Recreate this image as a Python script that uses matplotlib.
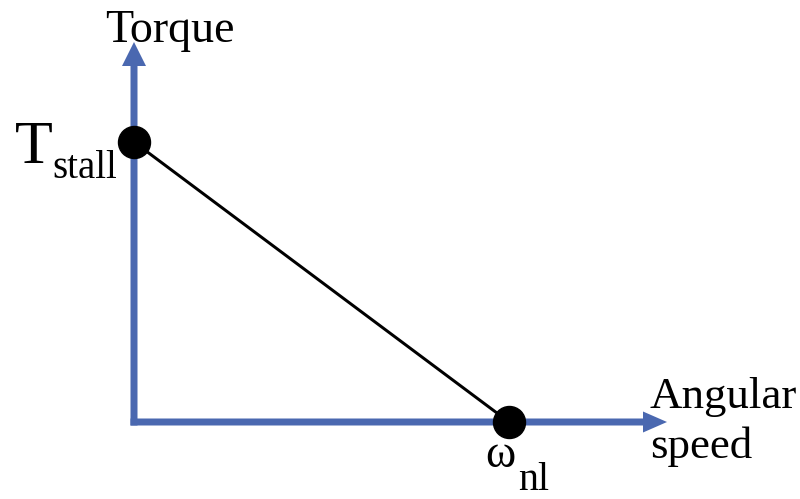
import matplotlib
matplotlib.use("Agg")
import matplotlib.pyplot as plt

# normalised torque-speed line: stall torque at zero speed, zero torque at no-load speed
speed = [0.0, 1.0]
torque = [1.0, 0.0]

AXIS_BLUE = "#4a68b0"
FONT = "Liberation Serif"
PX = 0.72  # points per pixel at dpi=100

# pixel -> data mapping (origin at pixel (134, 422), 375 px per unit x, 280 px per unit y)
X0, Y0, SX, SY = 134.0, 422.0, 375.0, 280.0


def dx(px):
    return (px - X0) / SX


def dy(py):
    return (Y0 - py) / SY


fig = plt.figure(figsize=(8.0, 4.99), dpi=100)
ax = fig.add_axes([0, 0, 1, 1])
ax.set_xlim(dx(0), dx(800))
ax.set_ylim(dy(499), dy(0))
ax.axis("off")

# axes arrows
ax.arrow(0, -3.5 / SY, 0, dy(42) + 3.5 / SY, width=7 / SX, head_width=24 / SX,
         head_length=24 / SY, length_includes_head=True, color=AXIS_BLUE, lw=0, zorder=1)
ax.arrow(-3.5 / SX, 0, dx(667) + 3.5 / SX, 0, width=7 / SY, head_width=21 / SY,
         head_length=24 / SX, length_includes_head=True, color=AXIS_BLUE, lw=0, zorder=1)

# torque-speed curve with end points
ax.plot(speed, torque, color="black", lw=3 * PX, zorder=2)
ax.plot(speed, torque, "o", color="black", markersize=32 * PX, lw=0, zorder=3)

# labels
txt = dict(family=FONT, color="black", va="baseline", ha="left")
ax.text(dx(170), dy(42), "Torque", fontsize=46 * PX, **{**txt, "ha": "center"})
ax.text(dx(15), dy(163), "T", fontsize=62 * PX, **txt)
ax.text(dx(52), dy(178), "stall", fontsize=39 * PX, **txt)
ax.text(dx(485), dy(467), "ω", fontsize=46 * PX, **txt)
ax.text(dx(518), dy(490), "nl", fontsize=40 * PX, **txt)
ax.text(dx(650), dy(408), "Angular", fontsize=45 * PX, **txt)
ax.text(dx(650), dy(458), "speed", fontsize=45 * PX, **txt)

fig.savefig("out.png", dpi=100)
